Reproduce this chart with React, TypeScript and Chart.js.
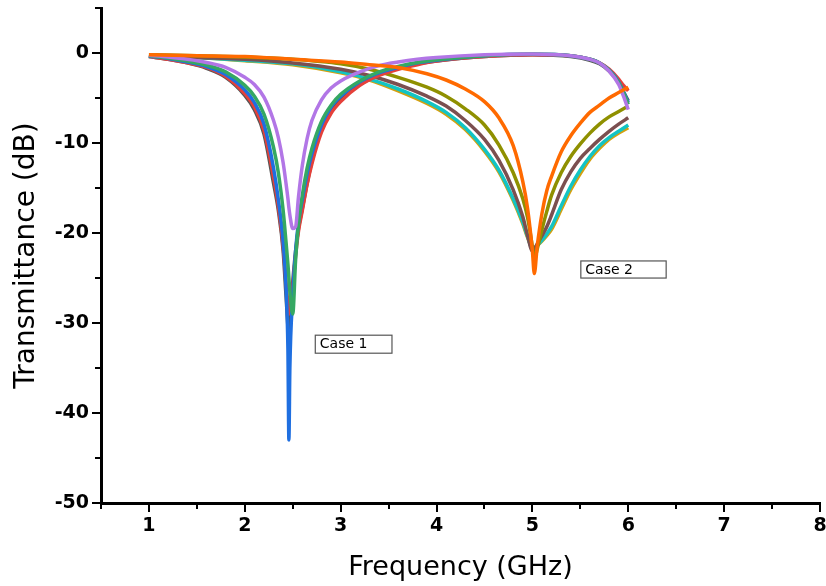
import React, { useEffect, useRef } from "react";
import { Chart, registerables } from "chart.js";

Chart.register(...registerables);

// ---------- data ----------
const freqCase1 = [1.0, 1.2, 1.4, 1.6, 1.8, 2.0, 2.1, 2.2, 2.3, 2.35, 2.4, 2.43, 2.45, 2.46, 2.47, 2.5, 2.53, 2.56, 2.6, 2.65, 2.7, 2.8, 2.9, 3.0, 3.2, 3.4, 3.6, 3.8, 4.0, 4.5, 5.0, 5.4, 5.6, 5.7, 5.8, 5.9, 5.95, 6.0];

const greyDb = [-0.4, -0.7, -1.1, -1.7, -2.7, -4.7, -6.3, -9.0, -14.5, -17.5, -22, -27, -30.5, -32, -30, -25.5, -22, -19.5, -17.3, -14.5, -12, -8.5, -6.4, -5.2, -3.5, -2.4, -1.7, -1.2, -0.9, -0.4, -0.2, -0.4, -0.8, -1.2, -2.0, -3.3, -4.3, -5.3];
const redDb = [-0.4, -0.7, -1.1, -1.6, -2.6, -4.5, -6.0, -8.6, -13.8, -17, -21.5, -25.5, -28, -29, -28.5, -26, -22.5, -19.8, -17.5, -14.6, -12.3, -8.8, -6.7, -5.4, -3.6, -2.5, -1.8, -1.3, -0.9, -0.4, -0.2, -0.3, -0.7, -1.1, -1.8, -2.9, -3.6, -4.2];
const blueDb = [-0.35, -0.6, -1.0, -1.5, -2.4, -4.1, -5.5, -7.9, -12.8, -16.3, -21, -26, -33, -43, -35, -27, -22, -18.8, -16.3, -13.4, -11.2, -8.0, -6.0, -4.8, -3.2, -2.2, -1.6, -1.1, -0.8, -0.3, -0.15, -0.3, -0.7, -1.1, -1.9, -3.2, -4.3, -5.5];
const greenDb = [-0.3, -0.55, -0.9, -1.35, -2.1, -3.6, -4.8, -6.8, -10.5, -13.3, -17.5, -21, -23.5, -25, -26.5, -29, -23, -19, -15.8, -12.8, -10.6, -7.6, -5.8, -4.6, -3.1, -2.1, -1.5, -1.05, -0.75, -0.3, -0.12, -0.3, -0.7, -1.1, -1.9, -3.3, -4.4, -5.7];
const purpleDb = [-0.25, -0.45, -0.7, -1.05, -1.6, -2.7, -3.5, -4.9, -7.5, -9.4, -12.2, -14.5, -16.2, -17.2, -18, -19.5, -19.3, -16, -12.5, -9.5, -7.5, -5.2, -3.9, -3.1, -2.1, -1.4, -1.0, -0.7, -0.5, -0.2, -0.1, -0.3, -0.7, -1.1, -2.0, -3.5, -4.8, -6.3];

const freqCase2 = [1.0, 1.5, 2.0, 2.5, 3.0, 3.3, 3.6, 3.9, 4.1, 4.3, 4.5, 4.65, 4.8, 4.9, 4.95, 5.0, 5.02, 5.05, 5.1, 5.15, 5.2, 5.3, 5.4, 5.5, 5.6, 5.7, 5.8, 5.9, 6.0];

const orangeDb = [-0.2, -0.3, -0.4, -0.7, -1.0, -1.3, -1.6, -2.3, -3.0, -4.0, -5.4, -7.2, -10.3, -14.3, -17.3, -22, -24.5, -21.5, -17.8, -15.3, -13.7, -11.0, -9.2, -7.8, -6.6, -5.8, -5.0, -4.4, -3.8];
const oliveDb = [-0.2, -0.3, -0.45, -0.7, -1.2, -1.8, -2.7, -3.8, -4.8, -6.2, -8.0, -10.2, -13.3, -16.2, -18.3, -21.5, -22.9, -21.8, -19.6, -17.6, -15.8, -13.3, -11.5, -10.1, -8.9, -7.9, -7.1, -6.5, -5.9];
const brownDb = [-0.3, -0.5, -0.7, -1.1, -1.8, -2.5, -3.5, -4.8, -5.9, -7.5, -9.6, -11.9, -15.2, -18.2, -20.3, -22.0, -21.8, -21.2, -20.3, -19.3, -18.0, -15.2, -13.2, -11.7, -10.6, -9.6, -8.7, -7.9, -7.2];
const cyanDb = [-0.3, -0.5, -0.8, -1.2, -2.1, -2.9, -4.0, -5.4, -6.6, -8.3, -10.7, -13.0, -16.2, -18.8, -20.4, -21.8, -21.7, -21.4, -20.8, -20.1, -19.3, -17.0, -14.8, -13.0, -11.5, -10.3, -9.4, -8.7, -8.0];
const goldDb = [-0.3, -0.5, -0.85, -1.3, -2.2, -3.0, -4.2, -5.6, -6.8, -8.5, -10.9, -13.2, -16.4, -19.0, -20.5, -21.6, -21.6, -21.4, -20.9, -20.3, -19.6, -17.4, -15.2, -13.4, -11.8, -10.6, -9.6, -8.9, -8.3];

const xTickValues = [1, 2, 3, 4, 5, 6, 7, 8];
const xMinorValues = [0.5, 1.5, 2.5, 3.5, 4.5, 5.5, 6.5, 7.5];
const yTickValues = [-50, -40, -30, -20, -10, 0];
const yMinorValues = [-45, -35, -25, -15, -5, 5];

const labelTexts = ["Case 1", "Case 2"];
// label boxes in data coordinates: [xLeft, xRight, yTop, yBottom]
const labelBoxes = [
  [2.73, 3.53, -31.3, -33.3],
  [5.5, 6.39, -23.05, -24.95],
];

// ---------- styles ----------
const seriesDefs = [
  { name: "Case 2 a", x: freqCase2, y: orangeDb, color: "#ff6a00", order: 0 },
  { name: "Case 1 e", x: freqCase1, y: purpleDb, color: "#b276e6", order: 1 },
  { name: "Case 1 d", x: freqCase1, y: greenDb, color: "#35a863", order: 2 },
  { name: "Case 1 c", x: freqCase1, y: blueDb, color: "#1f6fe0", order: 3 },
  { name: "Case 1 b", x: freqCase1, y: redDb, color: "#e5403a", order: 4 },
  { name: "Case 1 a", x: freqCase1, y: greyDb, color: "#555555", order: 5 },
  { name: "Case 2 b", x: freqCase2, y: oliveDb, color: "#8f9000", order: 6 },
  { name: "Case 2 c", x: freqCase2, y: brownDb, color: "#7b4f50", order: 7 },
  { name: "Case 2 d", x: freqCase2, y: cyanDb, color: "#12c4c4", order: 8 },
  { name: "Case 2 e", x: freqCase2, y: goldDb, color: "#d4a010", order: 9 },
];

const FONT = "'DejaVu Sans', 'Liberation Sans', Arial, sans-serif";

const extrasPlugin = {
  id: "extras",
  afterDraw(chart: any) {
    const ctx = chart.ctx;
    const xs = chart.scales.x;
    const ys = chart.scales.y;
    const area = chart.chartArea;
    ctx.save();
    // minor ticks
    ctx.strokeStyle = "#000";
    ctx.lineWidth = 2;
    xMinorValues.forEach((v) => {
      const px = Math.round(xs.getPixelForValue(v));
      ctx.beginPath();
      ctx.moveTo(px, area.bottom);
      ctx.lineTo(px, area.bottom + 6);
      ctx.stroke();
    });
    yMinorValues.forEach((v) => {
      const py = Math.round(ys.getPixelForValue(v));
      ctx.beginPath();
      ctx.moveTo(area.left, py);
      ctx.lineTo(area.left - 6, py);
      ctx.stroke();
    });
    // text boxes
    labelTexts.forEach((t, i) => {
      const b = labelBoxes[i];
      const l = xs.getPixelForValue(b[0]);
      const r = xs.getPixelForValue(b[1]);
      const tp = ys.getPixelForValue(b[2]);
      const bt = ys.getPixelForValue(b[3]);
      ctx.fillStyle = "#fff";
      ctx.fillRect(l, tp, r - l, bt - tp);
      ctx.strokeStyle = "#555";
      ctx.lineWidth = 1.2;
      ctx.strokeRect(l + 0.5, tp + 0.5, r - l, bt - tp);
      ctx.fillStyle = "#000";
      ctx.font = `14px ${FONT}`;
      ctx.textBaseline = "middle";
      ctx.textAlign = "left";
      ctx.fillText(t, l + 5, (tp + bt) / 2 + 1);
    });
    ctx.restore();
  },
};

export default function App() {
  const canvasRef = useRef<HTMLCanvasElement | null>(null);

  useEffect(() => {
    const canvas = canvasRef.current;
    if (!canvas) return;
    const datasets = seriesDefs.map((s) => ({
      label: s.name,
      data: s.x.map((xv, i) => ({ x: xv, y: s.y[i] })),
      borderColor: s.color,
      backgroundColor: s.color,
      borderWidth: 3.5,
      pointRadius: 0,
      fill: false,
      cubicInterpolationMode: "monotone" as const,
      order: s.order,
    }));

    const chart = new Chart(canvas, {
      type: "line",
      data: { datasets },
      options: {
        animation: false,
        responsive: false,
        maintainAspectRatio: false,
        layout: { padding: { left: 0, right: 6, top: 8, bottom: 0 } },
        plugins: {
          legend: { display: false },
          tooltip: { enabled: false },
        },
        scales: {
          x: {
            type: "linear",
            min: 0.5,
            max: 8,
            afterBuildTicks: (s: any) => {
              s.ticks = xTickValues.map((v) => ({ value: v }));
            },
            afterFit: (s: any) => {
              s.height = 83;
              s.paddingLeft = 0;
              s.paddingRight = 0;
            },
            ticks: {
              color: "#000",
              font: { family: FONT, size: 19, weight: "bold" },
              padding: 3,
              maxRotation: 0,
              autoSkip: false,
            },
            grid: {
              display: true,
              drawOnChartArea: false,
              drawTicks: true,
              tickLength: 9,
              color: "#000",
              lineWidth: 2,
            },
            border: { display: true, color: "#000", width: 3 },
            title: {
              display: true,
              text: "Frequency (GHz)",
              color: "#000",
              font: { family: FONT, size: 27 },
              padding: { top: 4, bottom: 2 },
            },
          },
          y: {
            type: "linear",
            min: -50,
            max: 5,
            afterBuildTicks: (s: any) => {
              s.ticks = yTickValues.map((v) => ({ value: v }));
            },
            afterFit: (s: any) => {
              s.width = 101;
              s.paddingTop = 0;
              s.paddingBottom = 0;
            },
            ticks: {
              color: "#000",
              font: { family: FONT, size: 19, weight: "bold" },
              padding: 3,
              autoSkip: false,
            },
            grid: {
              display: true,
              drawOnChartArea: false,
              drawTicks: true,
              tickLength: 9,
              color: "#000",
              lineWidth: 2,
            },
            border: { display: true, color: "#000", width: 3 },
            title: {
              display: true,
              text: "Transmittance (dB)",
              color: "#000",
              font: { family: FONT, size: 28 },
              padding: { top: 10, bottom: 4 },
            },
          },
        },
      },
      plugins: [extrasPlugin],
    } as any);

    return () => chart.destroy();
  }, []);

  return (
    <div style={{ position: "absolute", left: 0, top: 0, width: 826, height: 586, background: "#fff" }}>
      <canvas ref={canvasRef} width={826} height={586} style={{ display: "block", width: 826, height: 586 }} />
    </div>
  );
}
